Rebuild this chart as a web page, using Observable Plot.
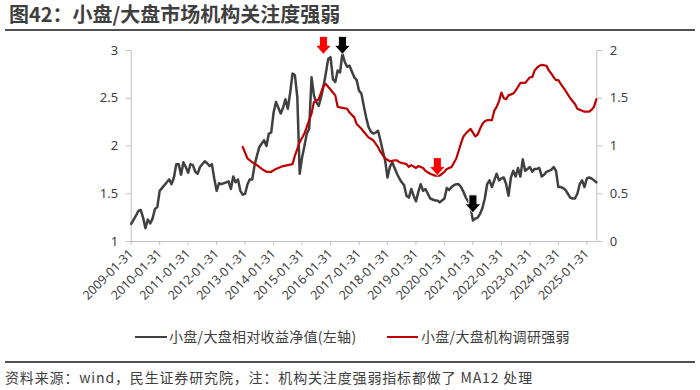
<!DOCTYPE html>
<html><head><meta charset="utf-8">
<script src="https://cdn.jsdelivr.net/npm/d3@7"></script>
<script src="https://cdn.jsdelivr.net/npm/@observablehq/plot@0.6"></script>
<style>
body{margin:0;background:#fff;}
#wrap{position:relative;width:700px;height:390px;overflow:hidden;font-family:"Noto Sans","Noto Sans CJK SC",sans-serif;color:#404040;}
#wrap svg{position:absolute;left:0;top:0;}
#title{position:absolute;left:9px;top:1px;font-size:20px;font-weight:bold;font-family:"Noto Sans CJK SC",sans-serif;color:#3f3f3f;white-space:nowrap;line-height:26px;}
.hline{position:absolute;left:5px;width:690px;height:2px;background:#505050;}
.leg{position:absolute;top:326px;font-size:14px;letter-spacing:0.3px;font-family:"Noto Sans CJK SC",sans-serif;color:#404040;white-space:nowrap;line-height:20px;}
.sw{position:absolute;height:2px;top:336px;}
#src{position:absolute;left:5px;top:367px;font-size:14px;letter-spacing:0.85px;font-family:"Noto Sans CJK SC",sans-serif;color:#404040;white-space:nowrap;line-height:20px;}
</style></head>
<body><div id="wrap">
<div id="title">图42：小盘/大盘市场机构关注度强弱</div>
<div class="hline" style="top:29px"></div>
<div class="sw" style="left:135px;width:32px;background:#404040"></div>
<div class="leg" style="left:169px">小盘/大盘相对收益净值(左轴)</div>
<div class="sw" style="left:387px;width:31px;background:#c00000"></div>
<div class="leg" style="left:421px">小盘/大盘机构调研强弱</div>
<div class="hline" style="top:361px"></div>
<div id="src">资料来源：wind，民生证券研究院，注：机构关注度强弱指标都做了 MA12 处理</div>
</div>
<script>
// ---- data ----
const tickLabels = ["2009-01-31","2010-01-31","2011-01-31","2012-01-31","2013-01-31","2014-01-31","2015-01-31","2016-01-31","2017-01-31","2018-01-31","2019-01-31","2020-01-31","2021-01-31","2022-01-31","2023-01-31","2024-01-31","2025-01-31"];
const leftTicks = [1, 1.5, 2, 2.5, 3];
const rightTicks = [0, 0.5, 1, 1.5, 2];

const blackMonths = ["2009-01","2009-03","2009-04","2009-05","2009-06","2009-07","2009-08","2009-09","2009-10","2009-11","2009-12",
"2010-01","2010-03","2010-04","2010-05","2010-06","2010-07","2010-08","2010-09","2010-10","2010-11","2010-12",
"2011-01","2011-02","2011-03","2011-04","2011-05","2011-06","2011-08","2011-09","2011-10","2011-11","2011-12",
"2012-01","2012-02","2012-03","2012-05","2012-06","2012-07","2012-08","2012-09","2012-10","2012-11","2012-12",
"2013-01","2013-02","2013-03","2013-04","2013-05","2013-06","2013-07","2013-09","2013-10","2013-11","2013-12",
"2014-01","2014-02","2014-04","2014-05","2014-06","2014-07","2014-08","2014-09","2014-10","2014-11","2014-12",
"2015-01","2015-02","2015-03","2015-04","2015-05","2015-06","2015-07","2015-08","2015-09","2015-10","2015-11","2015-12",
"2016-01","2016-02","2016-03","2016-04","2016-05","2016-06","2016-07","2016-08","2016-09","2016-11","2016-12",
"2017-01","2017-02","2017-03","2017-04","2017-05","2017-06","2017-07","2017-08","2017-09","2017-10","2017-11","2017-12",
"2018-01","2018-02","2018-03","2018-04","2018-05","2018-06","2018-07","2018-08","2018-09","2018-10","2018-11","2018-12",
"2019-01","2019-02","2019-03","2019-04","2019-05","2019-06","2019-07","2019-08","2019-09","2019-10","2019-11","2019-12",
"2020-01","2020-02","2020-03","2020-04","2020-05","2020-06","2020-07","2020-08","2020-09","2020-10","2020-11","2020-12",
"2021-01","2021-02","2021-03","2021-04","2021-05","2021-06","2021-07","2021-08","2021-09","2021-10","2021-11","2021-12",
"2022-01","2022-02","2022-03","2022-04","2022-05","2022-06","2022-07","2022-08","2022-09","2022-10","2022-11","2022-12",
"2023-01","2023-02","2023-03","2023-04","2023-05","2023-06","2023-07","2023-08","2023-09","2023-10","2023-11","2023-12",
"2024-01","2024-02","2024-03","2024-04","2024-05","2024-06","2024-07","2024-08","2024-09","2024-10","2024-11","2024-12",
"2025-01","2025-02","2025-03","2025-04","2025-05"];
const blackValues = [1.185,1.27,1.32,1.33,1.25,1.14,1.23,1.19,1.24,1.34,1.36,
1.53,1.59,1.62,1.65,1.60,1.67,1.81,1.81,1.70,1.83,1.78,
1.72,1.81,1.80,1.73,1.71,1.78,1.84,1.82,1.79,1.81,1.66,
1.53,1.61,1.60,1.62,1.63,1.55,1.68,1.62,1.65,1.53,1.49,
1.50,1.60,1.65,1.65,1.80,1.90,1.99,2.06,2.00,2.13,2.14,
2.35,2.46,2.34,2.40,2.49,2.39,2.56,2.76,2.74,2.51,1.71,
1.88,2.00,2.13,2.18,2.72,2.53,2.46,2.42,2.51,2.62,2.76,2.91,
2.93,2.70,2.67,2.79,2.77,2.97,2.88,2.83,2.84,2.72,2.69,
2.58,2.55,2.42,2.30,2.20,2.15,2.13,2.14,2.16,2.06,1.95,1.85,
1.67,1.78,1.83,1.77,1.71,1.66,1.62,1.59,1.48,1.46,1.55,1.48,
1.42,1.52,1.60,1.53,1.55,1.50,1.45,1.44,1.43,1.43,1.41,1.43,
1.45,1.56,1.54,1.57,1.59,1.60,1.60,1.57,1.52,1.46,1.42,1.36,
1.22,1.24,1.25,1.29,1.35,1.45,1.60,1.64,1.57,1.64,1.71,1.64,
1.66,1.67,1.60,1.48,1.67,1.74,1.68,1.77,1.68,1.86,1.74,1.76,
1.78,1.73,1.76,1.76,1.77,1.68,1.70,1.73,1.74,1.75,1.78,1.74,
1.57,1.57,1.56,1.54,1.50,1.46,1.45,1.45,1.50,1.60,1.64,1.57,
1.66,1.67,1.66,1.64,1.62];

const redMonths = ["2012-12","2013-02","2013-04","2013-06","2013-08","2013-10","2013-12",
"2014-02","2014-03","2014-05","2014-07","2014-09","2014-10","2014-12",
"2015-02","2015-03","2015-05","2015-06","2015-08","2015-09","2015-10","2015-11","2015-12",
"2016-02","2016-03","2016-04","2016-06","2016-08","2016-09","2016-11","2016-12",
"2017-02","2017-03","2017-05","2017-07","2017-09","2017-10","2017-12",
"2018-02","2018-04","2018-05","2018-06","2018-09","2018-10","2018-11",
"2019-01","2019-02","2019-04","2019-05","2019-07","2019-09","2019-11",
"2020-01","2020-02","2020-04","2020-06","2020-07","2020-08","2020-09","2020-10","2020-12",
"2021-01","2021-02","2021-03","2021-04","2021-05","2021-06","2021-07","2021-09","2021-10","2021-11","2021-12",
"2022-01","2022-02","2022-03","2022-04","2022-06","2022-07","2022-09","2022-11","2022-12",
"2023-01","2023-02","2023-03","2023-04","2023-05","2023-06","2023-08","2023-09","2023-10","2023-11","2023-12",
"2024-01","2024-02","2024-04","2024-06","2024-08","2024-09","2024-11","2024-12",
"2025-02","2025-03","2025-04","2025-05"];
const redValues = [0.99,0.87,0.83,0.80,0.76,0.73,0.73,
0.76,0.77,0.79,0.80,0.81,0.90,1.04,
1.13,1.20,1.34,1.46,1.49,1.56,1.63,1.65,1.62,
1.56,1.53,1.41,1.40,1.39,1.35,1.30,1.23,
1.18,1.15,1.09,1.06,0.99,0.94,0.87,
0.84,0.85,0.85,0.83,0.81,0.78,0.80,
0.77,0.79,0.77,0.74,0.71,0.69,0.69,
0.73,0.76,0.78,0.87,0.95,1.03,1.10,1.13,1.18,
1.14,1.10,1.12,1.18,1.23,1.26,1.27,1.27,1.37,1.41,1.47,
1.56,1.50,1.49,1.53,1.55,1.58,1.66,1.66,1.69,
1.72,1.72,1.79,1.82,1.84,1.85,1.84,1.79,1.76,1.72,1.69,
1.69,1.65,1.58,1.50,1.44,1.39,1.37,1.36,
1.36,1.38,1.41,1.49];

// annotation arrows: month, tip level on the left axis, colour
const arrowMonths = ["2015-10","2016-06","2019-10","2021-01"];
const arrowTips = [2.96, 2.96, 1.69, 1.30];
const arrowColors = ["#ff0000","#000000","#ff0000","#000000"];

// ---- build ----
const mIdx = s => { const [y, m] = s.split("-").map(Number); return (y - 2009) * 12 + (m - 1); };
const black = blackMonths.map((d, i) => ({m: mIdx(d), v: blackValues[i]}));
const red = redMonths.map((d, i) => ({m: mIdx(d), v: 1 + redValues[i]})); // right axis 0..2 -> left 1..3
const arrows = arrowMonths.map((d, i) => ({m: mIdx(d), v: arrowTips[i], c: arrowColors[i]}));
const tickPos = tickLabels.map(s => mIdx(s.slice(0, 7)));
const xMax = 196.2;

const blockArrow = {
  draw(ctx, size) {
    const s = Math.sqrt(size / Math.PI);
    const w = 0.9 * s, sw = 0.45 * s, hy = 0;
    ctx.moveTo(-sw, -s); ctx.lineTo(sw, -s); ctx.lineTo(sw, hy); ctx.lineTo(w, hy);
    ctx.lineTo(0, s); ctx.lineTo(-w, hy); ctx.lineTo(-sw, hy); ctx.closePath();
  }
};

const axisColor = "#bfbfbf";
const chart = Plot.plot({
  width: 700, height: 390,
  marginLeft: 130.7, marginRight: 103.7, marginTop: 50, marginBottom: 149,
  style: {fontFamily: '"Noto Sans","Noto Sans CJK SC",sans-serif', color: "#404040", background: "transparent"},
  x: {domain: [0, xMax]},
  y: {domain: [1, 3]},
  marks: [
    Plot.ruleX([0, xMax], {stroke: axisColor, strokeWidth: 1}),
    Plot.ruleY([1], {stroke: axisColor, strokeWidth: 1}),
    Plot.axisY({ticks: leftTicks, tickFormat: d => String(d), tickSize: 5, tickPadding: 8, fontSize: 13, stroke: axisColor, label: null}),
    Plot.axisY({anchor: "right", ticks: rightTicks.map(d => d + 1), tickFormat: d => String(+(d - 1).toFixed(1)), tickSize: 5, tickPadding: 8, fontSize: 13, stroke: axisColor, label: null}),
    Plot.axisX({ticks: tickPos, tickFormat: (d, i) => tickLabels[i], tickRotate: -45, tickSize: 4, tickPadding: 6, fontSize: 12.5, stroke: axisColor, label: null}),
    Plot.line(black, {x: "m", y: "v", stroke: "#404040", strokeWidth: 2.5, strokeLinejoin: "round"}),
    Plot.line(red, {x: "m", y: "v", stroke: "#c00000", strokeWidth: 2.2, strokeLinejoin: "round"}),
    Plot.dot(arrows, {x: "m", y: "v", r: 9, dy: -9, symbol: blockArrow, fill: "c", stroke: "#ffffff", strokeWidth: 1})
  ]
});
document.getElementById("wrap").prepend(chart);
</script>
</body></html>
